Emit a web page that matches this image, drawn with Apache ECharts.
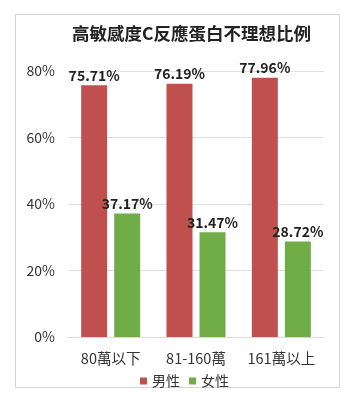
<!DOCTYPE html>
<html>
<head>
    <meta charset="UTF-8">
    <title></title>
    <script src="https://cdn.jsdelivr.net/npm/echarts@6/dist/echarts.min.js"></script>
    <style>
        *{margin:0;padding:0;}
        body,html{ width:354px; height:400px; background:#fff; }
        #main{ width:354px; height:400px; }
    </style>
</head>
<body>
<div id="main"></div>
<script>
    // 資料
    var categories = ['80萬以下', '81-160萬', '161萬以上'];
    var seriesNames = ['男性', '女性'];
    var maleData = [75.71, 76.19, 77.96];
    var femaleData = [37.17, 31.47, 28.72];
    var yTicks = [0, 20, 40, 60, 80];

    var font = '"Noto Sans CJK TC", "Noto Sans", sans-serif';
    var myChart = echarts.init(document.getElementById('main'));

    var labelStyle = {
        show: true,
        position: 'top',
        distance: 3,
        fontFamily: font,
        fontSize: 14,
        fontWeight: 'bold',
        color: '#222',
        formatter: function (p) { return p.value.toFixed(2) + '%'; }
    };

    var option = {
        animation: false,
        title: {
            text: '高敏感度C反應蛋白不理想比例',
            left: 67,
            top: 20,
            textStyle: { fontFamily: font, fontSize: 17.5, fontWeight: 'bold', color: '#222' }
        },
        graphic: [{
            type: 'rect',
            shape: { x: 15.5, y: 14.5, width: 324, height: 373 },
            style: { fill: 'none', stroke: '#d4d4d4', lineWidth: 1 },
            z: -1
        }],
        legend: {
            data: seriesNames,
            left: 135,
            top: 369,
            itemWidth: 7,
            itemHeight: 7,
            itemGap: 9,
            icon: 'rect',
            textStyle: { fontFamily: font, fontSize: 14, color: '#333' }
        },
        grid: { left: 68, right: 30, top: 71, bottom: 63 },
        xAxis: {
            type: 'category',
            data: categories,
            axisTick: { show: false },
            axisLine: { lineStyle: { color: '#d9d9d9' } },
            axisLabel: { fontFamily: font, fontSize: 14.5, color: '#333', margin: 14, interval: 0 }
        },
        yAxis: {
            type: 'value',
            min: yTicks[0],
            max: yTicks[yTicks.length - 1],
            interval: 20,
            axisLine: { show: false },
            axisTick: { show: false },
            splitLine: { lineStyle: { color: '#e0e0e0' } },
            axisLabel: { fontFamily: font, fontSize: 14, color: '#333', margin: 13, formatter: '{value}%' }
        },
        series: [{
            name: seriesNames[0],
            type: 'bar',
            data: maleData,
            barWidth: 26,
            barGap: '27%',
            itemStyle: { color: '#C0504D' },
            label: labelStyle
        }, {
            name: seriesNames[1],
            type: 'bar',
            data: femaleData,
            barWidth: 26,
            itemStyle: { color: '#70AD47' },
            label: labelStyle
        }]
    };
    myChart.setOption(option);
</script>
</body>
</html>
